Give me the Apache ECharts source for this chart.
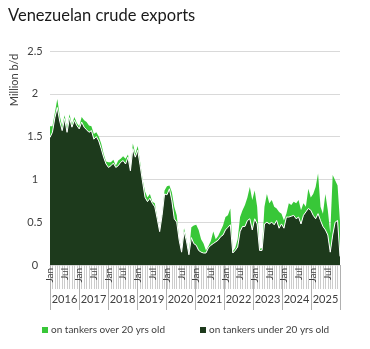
<!DOCTYPE html>
<html>
<head>
<meta charset="utf-8">
<script src="https://cdn.jsdelivr.net/npm/echarts@6/dist/echarts.min.js"></script>
<style>
  html, body { margin: 0; padding: 0; background: #fff; }
  #chart { width: 370px; height: 349px; }
</style>
</head>
<body>
<div id="chart"></div>
<script>
// Monthly crude exports, million barrels per day, Jan 2016 – Dec 2025
const years = ['2016', '2017', '2018', '2019', '2020', '2021', '2022', '2023', '2024', '2025'];
const monthNames = ['Jan', 'Feb', 'Mar', 'Apr', 'May', 'Jun', 'Jul', 'Aug', 'Sep', 'Oct', 'Nov', 'Dec'];
const halfYearLabels = ['Jan', 'Jul'];

// Exports carried on tankers under 20 years old
const underTwenty = [
  1.49, 1.55, 1.72, 1.84, 1.68, 1.57, 1.71, 1.55, 1.72, 1.61, 1.69, 1.63,
  1.59, 1.67, 1.61, 1.58, 1.55, 1.57, 1.47, 1.50, 1.45, 1.36, 1.26, 1.18,
  1.14, 1.16, 1.19, 1.14, 1.16, 1.20, 1.22, 1.18, 1.26, 1.10, 1.36, 1.26,
  1.34, 1.16, 0.97, 0.79, 0.74, 0.78, 0.72, 0.68, 0.54, 0.39, 0.58, 0.83,
  0.82, 0.89, 0.75, 0.54, 0.50, 0.29, 0.15, 0.39, 0.28, 0.12, 0.32, 0.25,
  0.23, 0.17, 0.15, 0.14, 0.14, 0.20, 0.23, 0.25, 0.27, 0.29, 0.33, 0.35,
  0.41, 0.44, 0.47, 0.14, 0.17, 0.21, 0.39, 0.45, 0.45, 0.52, 0.54, 0.41,
  0.54, 0.48, 0.17, 0.17, 0.48, 0.50, 0.48, 0.50, 0.47, 0.52, 0.43, 0.48,
  0.43, 0.56, 0.56, 0.57, 0.58, 0.54, 0.56, 0.48, 0.58, 0.62, 0.66, 0.64,
  0.58, 0.54, 0.60, 0.52, 0.45, 0.41, 0.35, 0.15, 0.35, 0.50, 0.52, 0.10
];

// Exports carried on tankers over 20 years old
const overTwenty = [
  0.13, 0.07, 0.06, 0.10, 0.06, 0.05, 0.04, 0.05, 0.04, 0.03, 0.04, 0.03,
  0.03, 0.06, 0.08, 0.09, 0.08, 0.05, 0.06, 0.05, 0.05, 0.06, 0.04, 0.03,
  0.06, 0.04, 0.04, 0.02, 0.06, 0.04, 0.05, 0.06, 0.03, 0.02, 0.06, 0.04,
  0.05, 0.04, 0.03, 0.07, 0.05, 0.05, 0.02, 0.04, 0.02, 0.02, 0.02, 0.04,
  0.10, 0.04, 0.10, 0.14, 0.08, 0.02, 0.02, 0.04, 0.02, 0.02, 0.12, 0.21,
  0.24, 0.24, 0.15, 0.11, 0.03, 0.02, 0.05, 0.14, 0.03, 0.05, 0.07, 0.11,
  0.15, 0.14, 0.19, 0.02, 0.03, 0.09, 0.17, 0.19, 0.25, 0.27, 0.37, 0.35,
  0.33, 0.20, 0.02, 0.03, 0.20, 0.33, 0.24, 0.26, 0.21, 0.14, 0.19, 0.12,
  0.09, 0.04, 0.16, 0.13, 0.16, 0.18, 0.20, 0.16, 0.14, 0.06, 0.23, 0.15,
  0.25, 0.37, 0.47, 0.16, 0.15, 0.42, 0.29, 0.22, 0.70, 0.49, 0.41, 0.40
];

const yTicks = { min: 0, max: 2.5, step: 0.5 };

// One category per month
const months = [];
years.forEach(y => monthNames.forEach(m => months.push(m + ' ' + y)));
const lastIndex = months.length - 1;

const GREEN = '#38c738';
const DARK = '#1d3a1c';
const TEXT = '#404040';
const GRIDLINE = '#d9d9d9';
const FONT = 'Lato, "Open Sans", sans-serif';

const chart = echarts.init(document.getElementById('chart'), null, { renderer: 'canvas' });

chart.setOption({
  animation: false,
  backgroundColor: '#fff',
  textStyle: { fontFamily: FONT },
  title: {
    text: 'Venezuelan crude exports',
    left: 3,
    top: 2,
    textStyle: { fontFamily: FONT, fontSize: 16.5, fontWeight: 'normal', color: '#1a1a1a' }
  },
  graphic: [{
    type: 'text',
    x: 14,
    y: 80,
    rotation: Math.PI / 2,
    style: {
      text: 'Million b/d',
      fontFamily: FONT,
      fontSize: 11,
      fill: TEXT,
      textAlign: 'center',
      textVerticalAlign: 'middle'
    }
  }],
  legend: {
    data: ['on tankers over 20 yrs old', 'on tankers under 20 yrs old'],
    left: 37,
    top: 320,
    icon: 'rect',
    itemWidth: 6,
    itemHeight: 6,
    itemGap: 35,
    textStyle: { fontFamily: FONT, fontSize: 10, color: TEXT, padding: [0, 0, 0, -2] }
  },
  grid: { left: 50, right: 30, top: 51, bottom: 84 },
  xAxis: [{
    // monthly category axis carrying the data, with a tick per month
    type: 'category',
    data: months,
    boundaryGap: false,
    axisLine: { show: true, lineStyle: { color: GRIDLINE } },
    axisTick: { show: true, interval: 0, length: 24, lineStyle: { color: '#cccccc', width: 1 } },
    axisLabel: { show: false },
    splitLine: { show: false }
  }, {
    // year row underneath, with separators between years
    type: 'category',
    data: years,
    position: 'bottom',
    boundaryGap: true,
    axisLine: { show: true, lineStyle: { color: 'rgba(0,0,0,0)' } },
    axisTick: { show: true, interval: 0, length: 45, lineStyle: { color: '#b0b0b0', width: 1 } },
    axisLabel: { interval: 0, hideOverlap: false, margin: 29, fontSize: 11, color: TEXT },
    splitLine: { show: false }
  }, {
    // Jan / Jul labels every six months, on the same month scale
    type: 'value',
    position: 'bottom',
    min: 0,
    max: lastIndex,
    interval: 6,
    axisLine: { show: false },
    axisTick: { show: false },
    splitLine: { show: false },
    axisLabel: {
      showMaxLabel: false,
      hideOverlap: false,
      rotate: 90,
      margin: 3,
      fontSize: 10,
      color: TEXT,
      formatter: v => halfYearLabels[(v / 6) % 2]
    }
  }],
  yAxis: {
    type: 'value',
    min: yTicks.min,
    max: yTicks.max,
    interval: yTicks.step,
    axisLine: { show: false },
    axisTick: { show: false },
    axisLabel: { margin: 15, align: 'center', fontSize: 11, color: TEXT },
    splitLine: { lineStyle: { color: GRIDLINE, width: 1 } }
  },
  series: [{
    name: 'on tankers under 20 yrs old',
    type: 'line',
    stack: 'exports',
    data: underTwenty,
    symbol: 'none',
    z: 3,
    color: DARK,
    lineStyle: { color: '#ffffff', width: 1 },
    areaStyle: { color: DARK, opacity: 1 }
  }, {
    name: 'on tankers over 20 yrs old',
    type: 'line',
    stack: 'exports',
    data: overTwenty,
    symbol: 'none',
    z: 2,
    color: GREEN,
    lineStyle: { width: 0 },
    areaStyle: { color: GREEN, opacity: 1 }
  }]
});
</script>
</body>
</html>
